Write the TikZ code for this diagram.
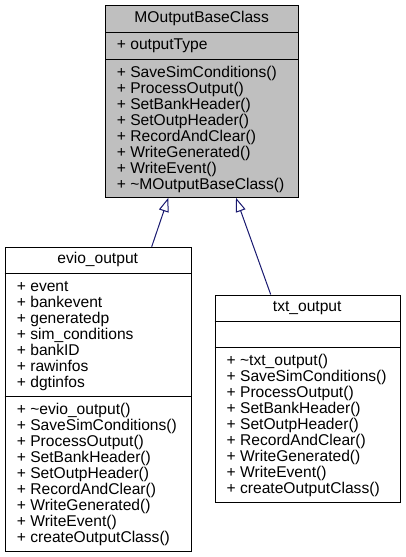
\documentclass[tikz,border=0pt]{standalone}
\usepackage{fontspec}
\setmainfont{Liberation Sans}
\usetikzlibrary{arrows.meta,calc}
\definecolor{edgeblue}{HTML}{191970}
\definecolor{basefill}{HTML}{BFBFBF}
\begin{document}
\begin{tikzpicture}[x=1pt,y=-1pt,
  box/.style={draw=black,line width=1.1pt,inner sep=0pt,anchor=north west},
  divline/.style={draw=black,line width=1.1pt},
  lbl/.style={font=\fontsize{15.6}{16}\selectfont,inner sep=0pt,text height=11pt,text depth=3.5pt},
  lline/.style={lbl,anchor=west},
  inh/.style={draw=edgeblue,line width=1pt,-{Triangle[open,length=14pt,width=10pt]}}]
\useasboundingbox (0,0) rectangle (405,557);
% boxes
\node[box,fill=basefill,minimum width=193.3pt,minimum height=191.7pt] (base) at (105,5) {};
\node[box,fill=white,minimum width=186pt,minimum height=304.3pt] (evio) at (4.7,246.7) {};
\node[box,fill=white,minimum width=185.5pt,minimum height=207.8pt] (txt) at (214.5,294.5) {};
% dividers
\draw[divline] ($(base.north west)+(0,27.3)$) -- ($(base.north east)+(0,27.3)$);
\draw[divline] ($(base.north west)+(0,54.3)$) -- ($(base.north east)+(0,54.3)$);
\draw[divline] ($(evio.north west)+(0,26.6)$) -- ($(evio.north east)+(0,26.6)$);
\draw[divline] ($(evio.north west)+(0,150)$) -- ($(evio.north east)+(0,150)$);
\draw[divline] ($(txt.north west)+(0,26.8)$) -- ($(txt.north east)+(0,26.8)$);
\draw[divline] ($(txt.north west)+(0,53.2)$) -- ($(txt.north east)+(0,53.2)$);
% inheritance arrows
\draw[inh] ($(evio.north west)+(147,0)$) -- ($(base.south west)+(63.3,0)$);
\draw[inh] ($(txt.north west)+(56.2,0)$) -- ($(base.south west)+(131,0)$);
% base texts
\node[lbl] (bt) at (201.65,18.7) {MOutputBaseClass};
\node[lline] (bf1) at (116.7,45.8) {+ outputType};
\foreach \t [count=\i] in {SaveSimConditions(),ProcessOutput(),SetBankHeader(),SetOutpHeader(),RecordAndClear(),WriteGenerated(),WriteEvent(),\textasciitilde MOutputBaseClass()}
  \node[lline] (bm\i) at (116.7,{73.8+(\i-1)*16}) {+ \t};
% evio texts
\node[lbl] (et) at (97.7,260) {evio\_output};
\foreach \t [count=\i] in {event,bankevent,generatedp,sim\_conditions,bankID,rawinfos,dgtinfos}
  \node[lline] (ea\i) at (16.7,{287.3+(\i-1)*16}) {+ \t};
\foreach \t [count=\i] in {\textasciitilde evio\_output(),SaveSimConditions(),ProcessOutput(),SetBankHeader(),SetOutpHeader(),RecordAndClear(),WriteGenerated(),WriteEvent(),createOutputClass()}
  \node[lline] (em\i) at (16.7,{411.2+(\i-1)*16}) {+ \t};
% txt texts
\node[lbl] (tt) at (307.25,307.9) {txt\_output};
\foreach \t [count=\i] in {\textasciitilde txt\_output(),SaveSimConditions(),ProcessOutput(),SetBankHeader(),SetOutpHeader(),RecordAndClear(),WriteGenerated(),WriteEvent(),createOutputClass()}
  \node[lline] (tm\i) at (226.5,{362.2+(\i-1)*16}) {+ \t};
\end{tikzpicture}
\end{document}
